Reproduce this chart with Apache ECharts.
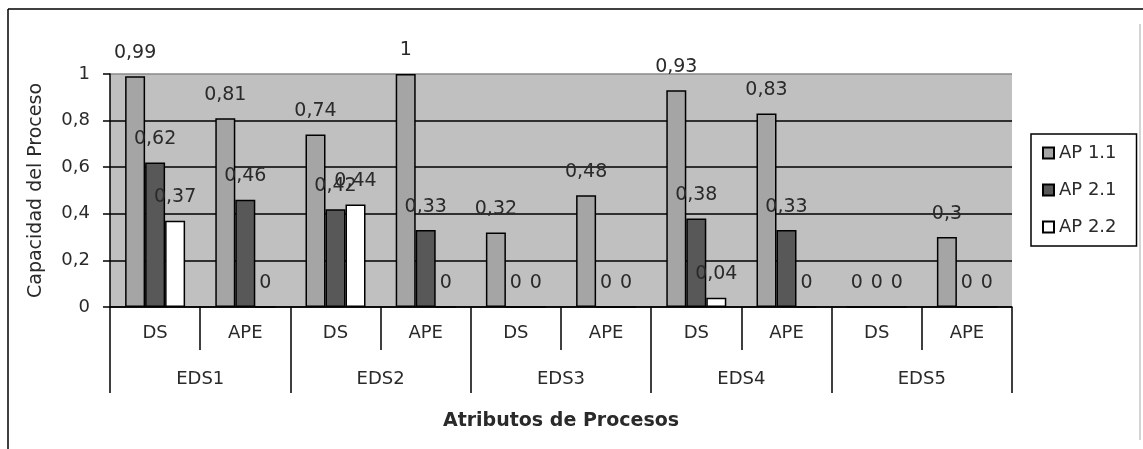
<!DOCTYPE html>
<html>
<head>
<meta charset="utf-8">
<script src="https://cdn.jsdelivr.net/npm/echarts@6/dist/echarts.min.js"></script>
<style>
html,body{margin:0;padding:0;background:#fff;}
#chart{width:1143px;height:449px;}
</style>
</head>
<body>
<div id="chart"></div>
<script>
const subCategories = ['DS','APE','DS','APE','DS','APE','DS','APE','DS','APE'];
const groupCategories = ['EDS1','EDS2','EDS3','EDS4','EDS5'];
const seriesNames = ['AP 1.1','AP 2.1','AP 2.2'];
const ap11 = [0.99, 0.81, 0.74, 1, 0.32, 0.48, 0.93, 0.83, 0, 0.3];
const ap21 = [0.62, 0.46, 0.42, 0.33, 0, 0, 0.38, 0.33, 0, 0];
const ap22 = [0.37, 0, 0.44, 0, 0, 0, 0.04, 0, 0, 0];
const yTicks = [0, 0.2, 0.4, 0.6, 0.8, 1];
const seriesColors = ['#a5a5a5', '#585858', '#ffffff'];

const FONT = 'DejaVu Sans';
const TEXT = '#2a2a2a';
const fmt = v => String(v).replace('.', ',');

const chart = echarts.init(document.getElementById('chart'), null, {renderer:'canvas'});
const values = [ap11, ap21, ap22];

const series = seriesNames.map((name, i) => ({
  name: name,
  type: 'bar',
  xAxisIndex: 0,
  yAxisIndex: 0,
  data: values[i],
  barWidth: 20,
  barGap: '0%',
  itemStyle: { color: seriesColors[i], borderColor: '#000', borderWidth: 1.5 },
  label: {
    show: true,
    position: 'top',
    distance: 14,
    fontFamily: FONT,
    fontSize: 19,
    color: TEXT,
    formatter: p => fmt(p.value)
  }
}));

chart.setOption({
  animation: false,
  backgroundColor: '#fff',
  textStyle: { fontFamily: FONT },
  grid: {
    left: 110, right: 131, top: 74, bottom: 142,
    show: true, backgroundColor: '#c0c0c0', borderWidth: 0
  },
  legend: {
    orient: 'vertical',
    left: 1031, top: 134,
    padding: [10, 20, 10, 11],
    borderColor: '#000', borderWidth: 1.5,
    backgroundColor: '#fff',
    itemWidth: 11, itemHeight: 11,
    itemGap: 19,
    icon: 'rect',
    textStyle: { fontFamily: FONT, fontSize: 18, color: TEXT, lineHeight: 18 },
    data: seriesNames
  },
  xAxis: [
    {
      type: 'category',
      data: subCategories,
      position: 'bottom',
      axisLine: { show: true, lineStyle: { color: '#000', width: 1.5 } },
      axisTick: { show: true, alignWithLabel: false, interval: 0, length: 43, lineStyle: { color: '#000', width: 1.5 } },
      axisLabel: { interval: 0, margin: 17, fontFamily: FONT, fontSize: 18, color: TEXT },
      splitLine: { show: false }
    },
    {
      type: 'category',
      data: groupCategories,
      position: 'bottom',
      axisLine: { show: false },
      axisTick: { show: true, alignWithLabel: false, interval: 0, length: 86, lineStyle: { color: '#000', width: 1.5 } },
      axisLabel: { interval: 0, margin: 63, fontFamily: FONT, fontSize: 18, color: TEXT },
      splitLine: { show: false },
      name: 'Atributos de Procesos',
      nameLocation: 'middle',
      nameGap: 105,
      nameTextStyle: { fontFamily: FONT, fontSize: 19, fontWeight: 'bold', color: TEXT }
    }
  ],
  yAxis: {
    type: 'value',
    min: yTicks[0], max: yTicks[yTicks.length - 1], interval: 0.2,
    axisLine: { show: true, lineStyle: { color: '#000', width: 1.5 } },
    axisTick: { show: true, length: 7, lineStyle: { color: '#000', width: 1.5 } },
    axisLabel: { margin: 20, fontFamily: FONT, fontSize: 18, color: TEXT, formatter: v => fmt(Math.round(v * 10) / 10) },
    splitLine: { show: true, lineStyle: { color: ['#000','#000','#000','#000','#000','#8a8a8a'], width: 1.5 } },
    name: 'Capacidad del Proceso',
    nameLocation: 'middle',
    nameGap: 64,
    nameRotate: 90,
    nameTextStyle: { fontFamily: FONT, fontSize: 19, color: TEXT }
  },
  graphic: [
    { type: 'line', shape: { x1: 8, y1: 9, x2: 1143, y2: 9 }, style: { stroke: '#000', lineWidth: 1.5 } },
    { type: 'line', shape: { x1: 8, y1: 9, x2: 8, y2: 449 }, style: { stroke: '#000', lineWidth: 1.5 } },
    { type: 'line', shape: { x1: 1140, y1: 24, x2: 1140, y2: 440 }, style: { stroke: '#aaa', lineWidth: 1 } }
  ],
  series: series
});
</script>
</body>
</html>
